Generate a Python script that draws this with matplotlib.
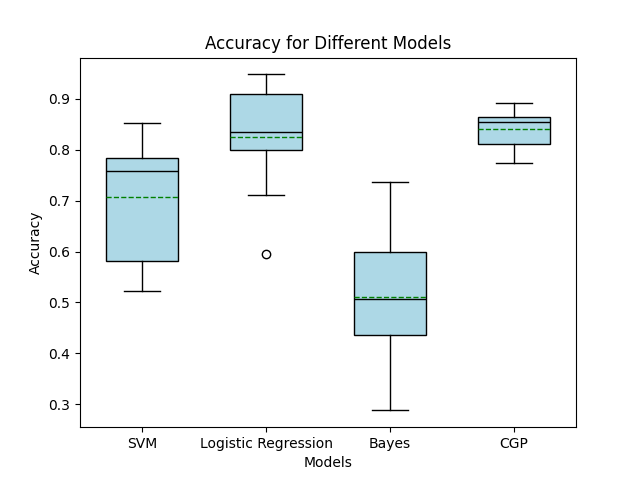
import matplotlib
matplotlib.use("Agg")
import matplotlib.pyplot as plt

models = ["SVM", "Logistic Regression", "Bayes", "CGP"]
whislo = [0.522, 0.711, 0.288, 0.773]
q1 = [0.581, 0.800, 0.436, 0.811]
med = [0.758, 0.834, 0.507, 0.854]
q3 = [0.783, 0.909, 0.600, 0.865]
whishi = [0.852, 0.948, 0.736, 0.891]
means = [0.707, 0.825, 0.510, 0.840]
fliers = [[], [0.596], [], []]

stats = []
for i in range(len(models)):
    stats.append({
        "label": models[i],
        "whislo": whislo[i],
        "q1": q1[i],
        "med": med[i],
        "q3": q3[i],
        "whishi": whishi[i],
        "mean": means[i],
        "fliers": fliers[i],
    })

fig, ax = plt.subplots(figsize=(6.4, 4.8), dpi=100)
ax.bxp(stats, showmeans=True, meanline=True, patch_artist=True, widths=0.58,
       boxprops=dict(facecolor="lightblue", edgecolor="black"),
       medianprops=dict(color="black"),
       meanprops=dict(color="green", linestyle="--"))
ax.set_title("Accuracy for Different Models")
ax.set_xlabel("Models")
ax.set_ylabel("Accuracy")
fig.savefig("out.png")
